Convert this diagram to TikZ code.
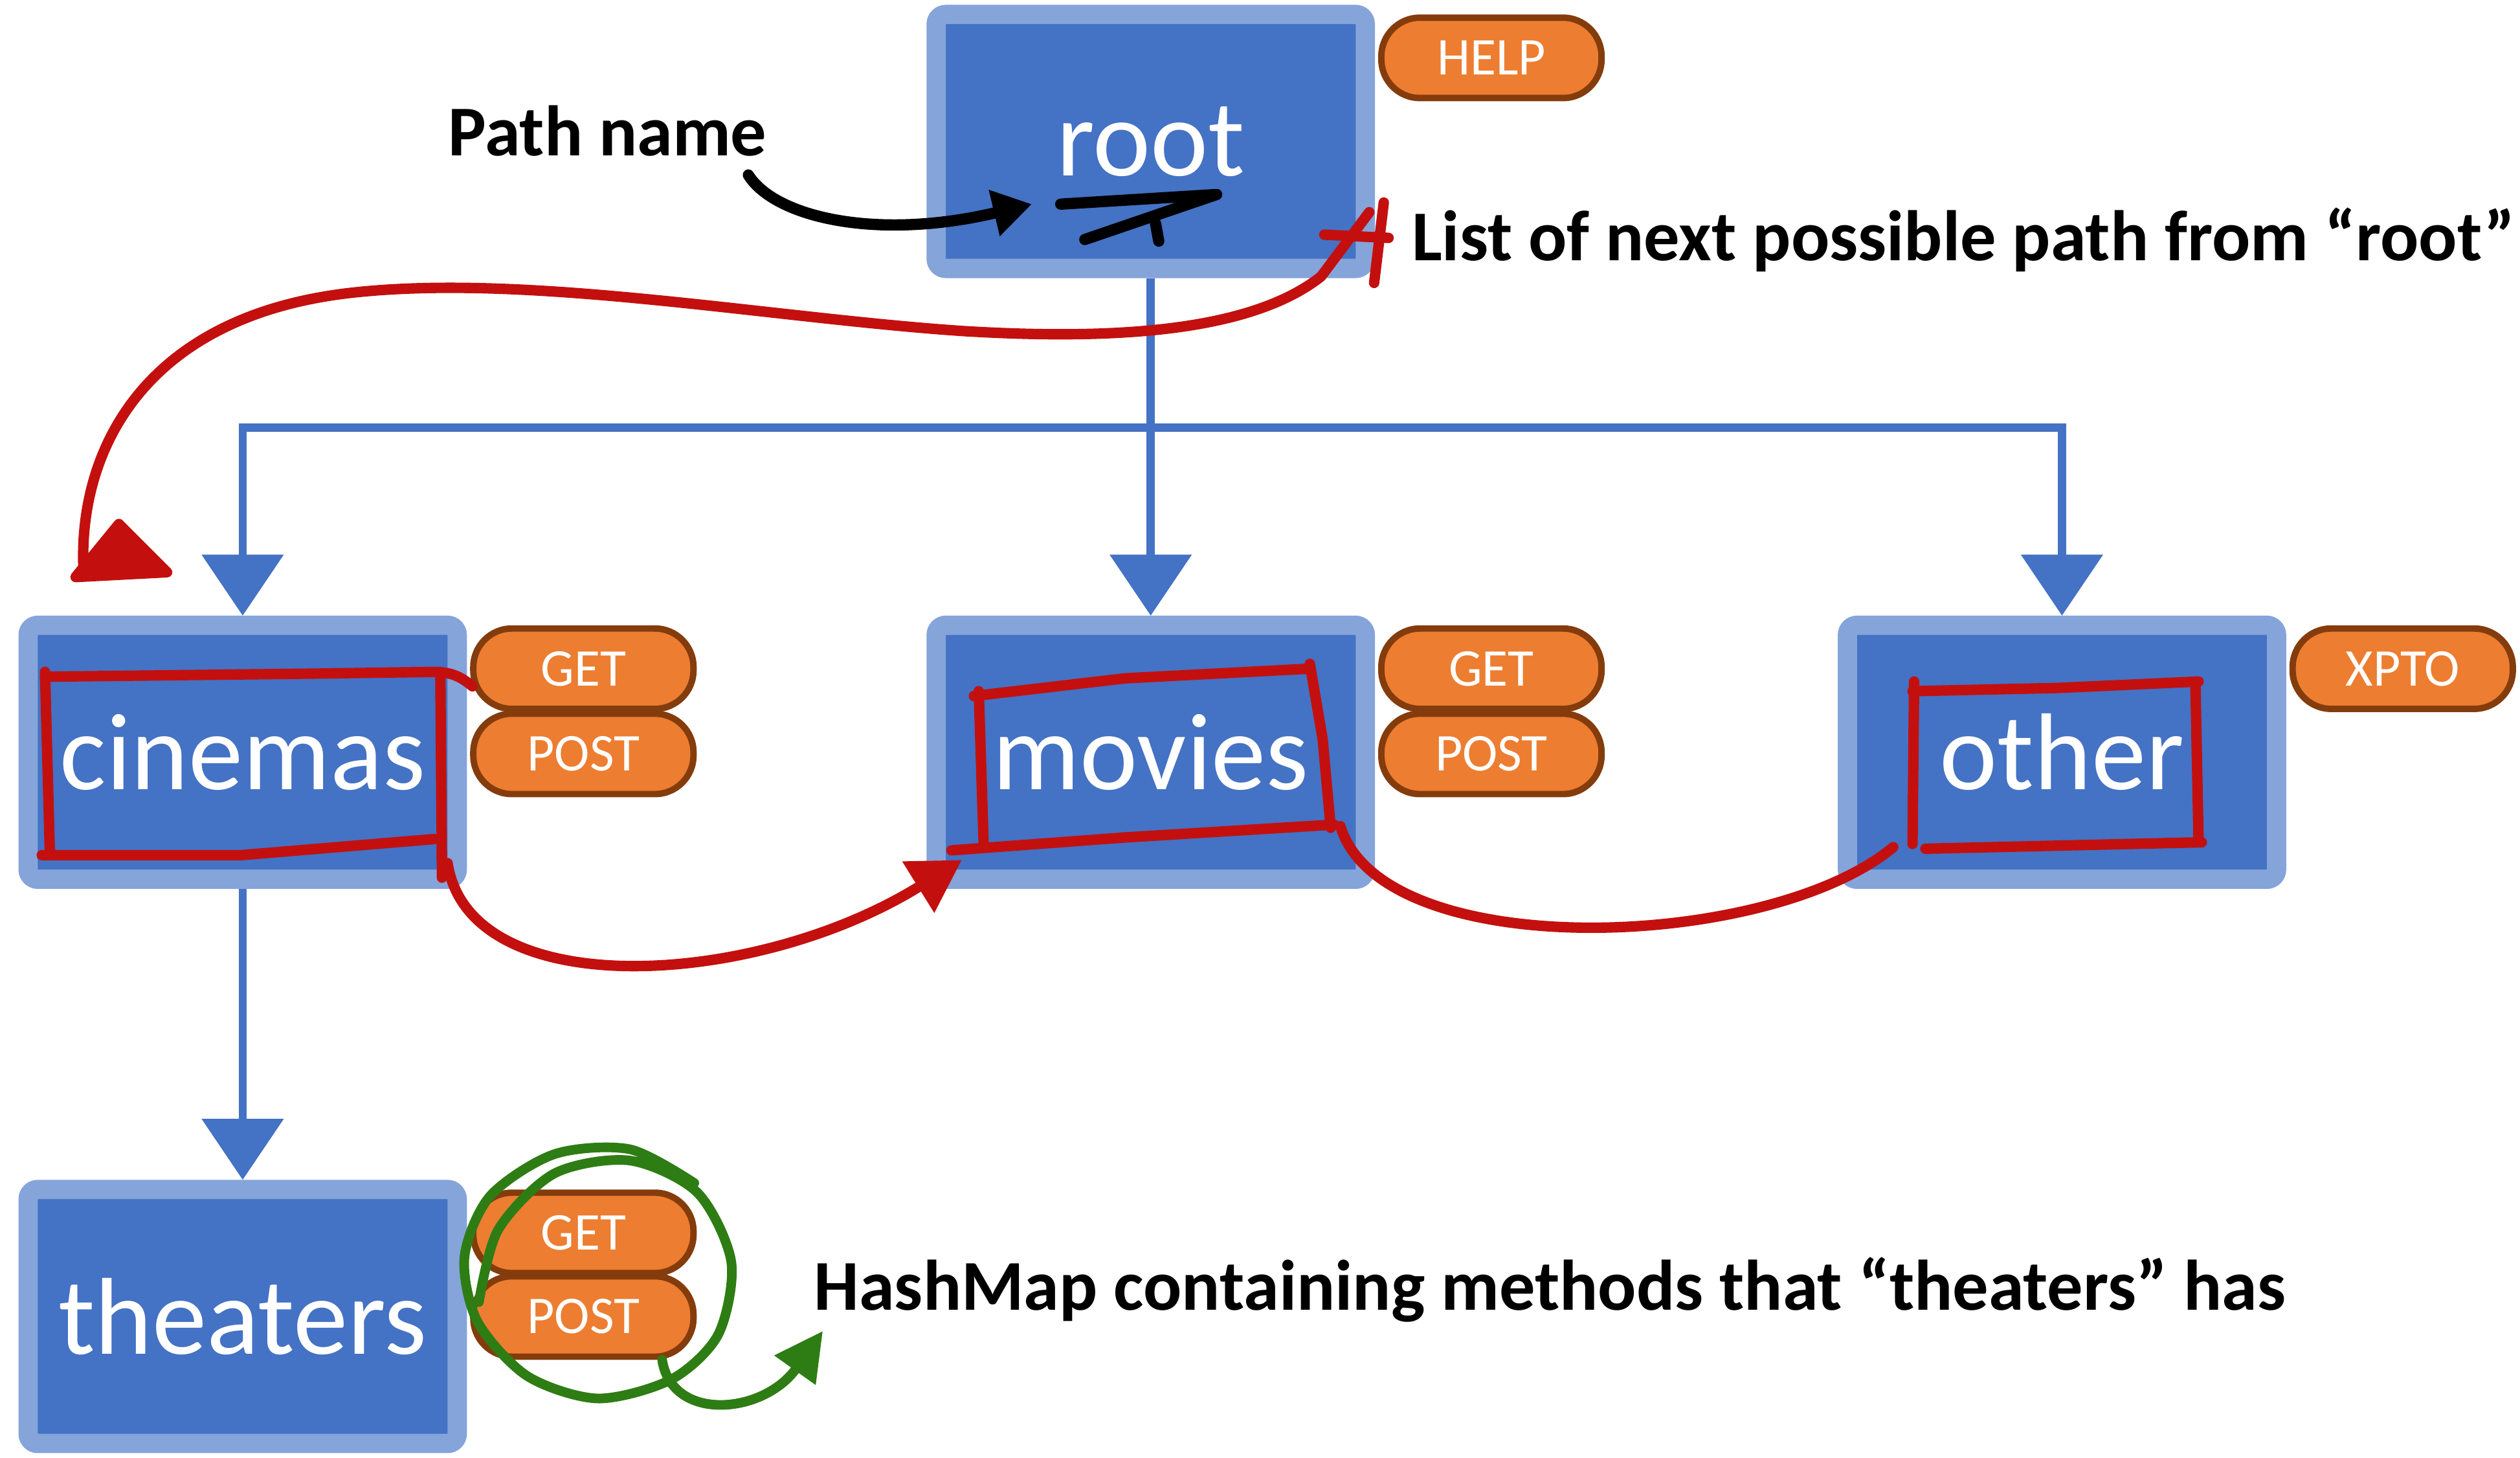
\documentclass[tikz,border=0pt]{standalone}
\usepackage{fontspec}
\setmainfont{Carlito}
\usepackage{tikz}
\usetikzlibrary{arrows.meta, calc}
\definecolor{boxblue}{RGB}{68, 114, 196}
\definecolor{rimblue}{RGB}{133, 164, 218}
\definecolor{pillorange}{RGB}{237, 125, 49}
\definecolor{pillbrown}{RGB}{132, 60, 12}
\definecolor{inkred}{RGB}{195, 16, 15}
\definecolor{inkgreen}{RGB}{46, 125, 20}

\begin{document}
\begin{tikzpicture}[x=1pt, y=-1pt,
    pathbox/.style={draw=rimblue, fill=boxblue, line width=12pt, rounded corners=6pt, minimum width=267pt, minimum height=158pt, inner sep=0pt, text=white, font=\fontsize{68}{68}\selectfont},
    method/.style={draw=pillbrown, fill=pillorange, line width=4pt, rounded corners=24pt, minimum width=137pt, minimum height=50pt, inner sep=0pt, text=white, font=\fontsize{33}{33}\selectfont},
    tree/.style={draw=boxblue, line width=5pt, -{Triangle[width=50pt, length=38pt]}},
    redink/.style={draw=inkred, line width=6.5pt, line cap=round, line join=round},
    greenink/.style={draw=inkgreen, line width=6pt, line cap=round, line join=round},
    blackink/.style={draw=black, line width=7pt, line cap=round, line join=round},
    note/.style={font=\bfseries\fontsize{44.5}{44.5}\selectfont}]
    \useasboundingbox (0,0) rectangle (1568,907);

    \node[pathbox] (root) at (716,88) {root};
    \node[pathbox] (cinemas) at (151,468) {cinemas};
    \node[pathbox] (movies) at (716,468) {movies};
    \node[pathbox] (other) at (1283,468) {other};
    \node[pathbox] (theaters) at (151,819) {theaters};

    \node[method] (rootHelp) at (928,36) {HELP};
    \node[method] (cinemasGet) at (363,416) {GET};
    \node[method] (cinemasPost) at (363,469) {POST};
    \node[method] (moviesGet) at (928,416) {GET};
    \node[method] (moviesPost) at (928,469) {POST};
    \node[method] (otherXpto) at (1495,416) {XPTO};
    \node[method] (theatersGet) at (363,767) {GET};
    \node[method] (theatersPost) at (363,819) {POST};

    \coordinate (fork) at (root.south |- 0,266);
    \draw[tree] (root.south) -- (movies.north);
    \draw[tree] (fork) -| (cinemas.north);
    \draw[tree] (fork) -| (other.north);
    \draw[tree] (cinemas.south) -- (theaters.north);

    \node[note, anchor=base] (pathname) at (378,97) {Path name};
    \node[note, anchor=base west] (listnote) at (875,162) {List of next possible path from “root”};
    \node[note, anchor=base west] (hashnote) at (503,815) {HashMap containing methods that “theaters” has};

    \draw[blackink, -{Triangle[width=28pt, length=24pt]}] (pathname.south east) ++(-15,8) .. controls (482,135) and (545,150) .. (642,127);
    \draw[blackink] (660,127) -- (757,121) -- (675,149);
    \draw[blackink] (719,139) -- (721,150);

    \coordinate (star) at (852,132);
    \draw[redink] (861,126) -- (855,176);
    \draw[redink] (824,146) -- (864,148);
    \draw[redink] (star) -- (822,172) .. controls (780,205) and (700,212) .. (600,206) .. controls (480,198) and (330,170) .. (220,182) .. controls (90,196) and (48,280) .. (52,356);
    \filldraw[redink, fill=inkred] (47,359) -- (104,356) -- (74,326) -- cycle;

    \draw[redink] (28,418) -- (31,530);
    \draw[redink] (26,532) -- (150,532) -- (270,522);
    \draw[redink] (28,421) -- (200,419) -- (270,418) .. controls (282,418) and (288,422) .. (294,427);
    \draw[redink] (274,422) -- (275,546);
    \draw[redink, -{Triangle[width=36pt, length=32pt]}] ($(cinemas.south east)+(-12,-16)$) .. controls (292,625) and (470,615) .. ($(movies.south west)+(22,-18)$);

    \draw[redink] (606,433) -- (700,422) -- (815,416);
    \draw[redink] (609,430) -- (612,524);
    \draw[redink] (815,413) -- (823,460) -- (828,515);
    \draw[redink] (592,529) -- (700,521) -- (830,513);
    \draw[redink] (834,514) .. controls (860,600) and (1100,592) .. (1178,527);

    \draw[redink] (1190,430) -- (1280,428) -- (1368,424);
    \draw[redink] (1191,424) -- (1190,525);
    \draw[redink] (1366,424) -- (1368,524);
    \draw[redink] (1198,528) -- (1370,524);

    \draw[greenink] plot[smooth] coordinates {(298,810) (310,765) (345,730) (392,722) (434,742) (455,785) (447,830) (418,858) (372,870) (328,856) (297,822) (289,782) (305,744) (345,718) (392,715) (432,736)};
    \draw[greenink, -{Triangle[width=30pt, length=30pt]}] (412,846) .. controls (418,885) and (475,880) .. (512,828);
\end{tikzpicture}
\end{document}
